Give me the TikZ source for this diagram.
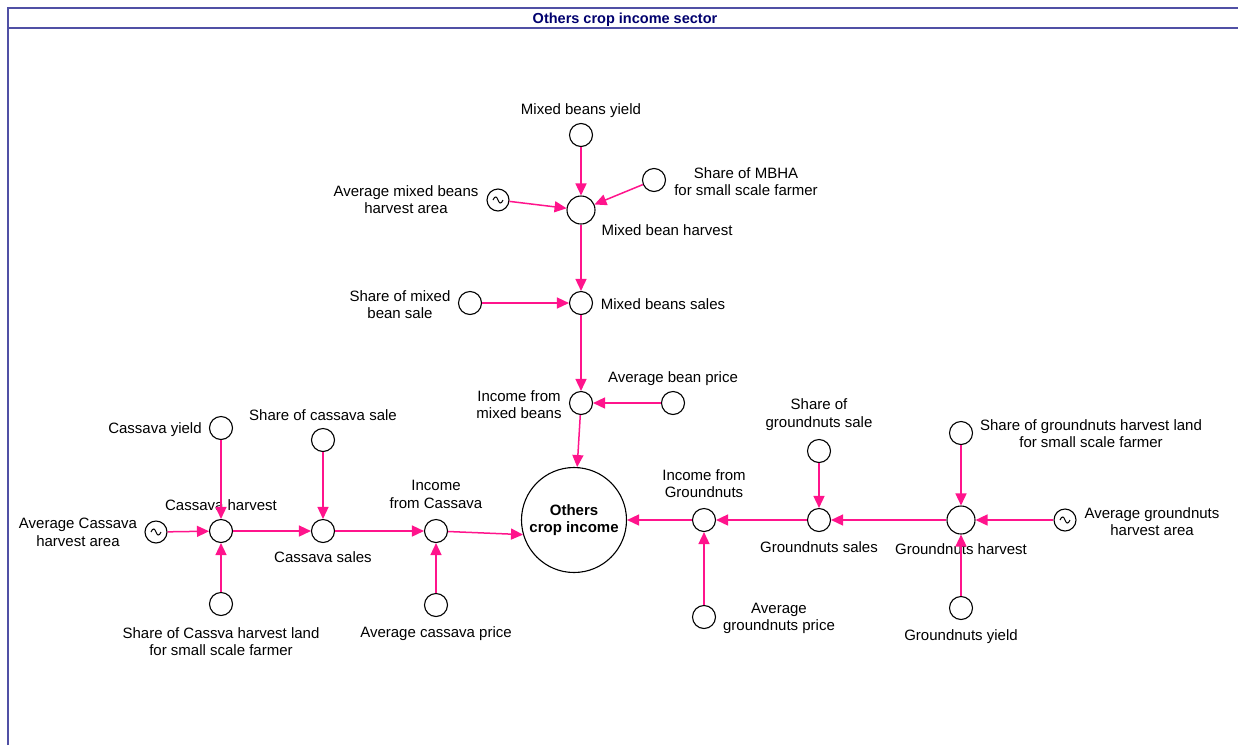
\documentclass[tikz,border=0pt]{standalone}
\usepackage{fontspec}
\setmainfont{Liberation Sans}
\usetikzlibrary{arrows.meta,calc}
\definecolor{linkpink}{RGB}{255,20,140}
\definecolor{framecol}{RGB}{80,80,165}
\definecolor{titlecol}{RGB}{0,0,110}
\tikzset{
  aux/.style={circle,draw=black,line width=1.1pt,minimum size=23pt,inner sep=0pt},
  bigaux/.style={aux,minimum size=28pt},
  conv/.style={aux,minimum size=22pt},
  stock/.style={circle,draw=black,line width=1.1pt,minimum size=105pt,inner sep=0pt,
    font=\fontsize{15}{17}\selectfont\bfseries,align=center},
  lbl/.style={font=\fontsize{15}{17.5}\selectfont,align=center,inner sep=0pt,yshift=-1.5pt},
  link/.style={draw=linkpink,line width=1.5pt,-{Triangle[length=12pt,width=11pt]}}
}
% small sine wave inside a graphical-function circle
\newcommand{\wave}[1]{%
  \draw[line width=1pt] ($(#1.center)+(-5,0)$)
    .. controls ($(#1.center)+(-3,-5)$) and ($(#1.center)+(-1,-3)$) .. (#1.center)
    .. controls ($(#1.center)+(1,3)$) and ($(#1.center)+(3,5)$) .. ($(#1.center)+(5,0)$);}
\begin{document}
\begin{tikzpicture}[x=1pt,y=-1pt]
\useasboundingbox (0,0) rectangle (1238,745);
\fill[white] (0,0) rectangle (1238,745);
% sector frame
\draw[framecol,line width=2pt] (8,745) -- (8,8) -- (1238,8);
\draw[framecol,line width=2pt] (8,28) -- (1238,28);
\node[font=\fontsize{14.5}{16}\selectfont\bfseries,text=titlecol,yshift=-1.5pt] (title) at (625,18) {Others crop income sector};

% central stock
\node[stock] (oci) at (574,520) {Others\\crop income};

% mixed beans
\node[aux] (mby) at (581,135) {};
\node[lbl] (mbyL) at (581,109) {Mixed beans yield};
\node[aux] (mbha) at (654,180) {};
\node[lbl] (mbhaL) at (746,180) {Share of MBHA\\for small scale farmer};
\node[conv] (amba) at (498,200) {};
\wave{amba}
\node[lbl] (ambaL) at (406,198) {Average mixed beans\\harvest area};
\node[bigaux] (mbh) at (581,210) {};
\node[lbl] (mbhL) at (667,229) {Mixed bean harvest};
\node[aux] (smbs) at (470,303) {};
\node[lbl] (smbsL) at (400,303) {Share of mixed\\bean sale};
\node[aux] (mbs) at (581,303) {};
\node[lbl] (mbsL) at (663,303) {Mixed beans sales};
\node[aux] (imb) at (581,403) {};
\node[lbl] (imbL) at (519,403) {Income from\\mixed beans};
\node[aux] (abp) at (673,403) {};
\node[lbl] (abpL) at (673,377) {Average bean price};

% cassava
\node[aux] (cy) at (221,428) {};
\node[lbl] (cyL) at (155,428) {Cassava yield};
\node[aux] (scs) at (323,440) {};
\node[lbl] (scsL) at (323,414) {Share of cassava sale};
\node[conv] (aca) at (156,532) {};
\wave{aca}
\node[lbl] (acaL) at (78,531) {Average Cassava\\harvest area};
\node[aux] (ch) at (221,531) {};
\node[lbl] (chL) at (221,504) {Cassava harvest};
\node[aux] (cs) at (323,531) {};
\node[lbl] (csL) at (323,556) {Cassava sales};
\node[aux] (ic) at (436,531) {};
\node[lbl] (icL) at (436,493) {Income\\from Cassava};
\node[aux] (scl) at (221,604) {};
\node[lbl] (sclL) at (221,640) {Share of Cassva harvest land\\for small scale farmer};
\node[aux] (acp) at (436,605) {};
\node[lbl] (acpL) at (436,632) {Average cassava price};

% groundnuts
\node[aux] (ig) at (704,520) {};
\node[lbl] (igL) at (704,482) {Income from\\Groundnuts};
\node[aux] (agp) at (704,617) {};
\node[lbl] (agpL) at (779,617) {Average\\groundnuts price};
\node[aux] (sgs) at (819,451) {};
\node[lbl] (sgsL) at (819,413) {Share of\\groundnuts sale};
\node[aux] (gs) at (819,520) {};
\node[lbl] (gsL) at (819,546) {Groundnuts sales};
\node[aux] (sgl) at (961,433) {};
\node[lbl] (sglL) at (1091,432) {Share of groundnuts harvest land\\for small scale farmer};
\node[bigaux] (gh) at (961,520) {};
\node[lbl] (ghL) at (961,548) {Groundnuts harvest};
\node[conv] (aga) at (1065,520) {};
\wave{aga}
\node[lbl] (agaL) at (1152,520) {Average groundnuts\\harvest area};
\node[aux] (gy) at (961,608) {};
\node[lbl] (gyL) at (961,635) {Groundnuts yield};

% links
\draw[link] (mby) -- (mbh);
\draw[link] (mbha) -- (mbh);
\draw[link] (amba) -- (mbh);
\draw[link] (mbh) -- (mbs);
\draw[link] (smbs) -- (mbs);
\draw[link] (mbs) -- (imb);
\draw[link] (abp) -- (imb);
\draw[link] (imb) -- (oci);
\draw[link] (cy) -- (ch);
\draw[link] (aca) -- (ch);
\draw[link] (scl) -- (ch);
\draw[link] (ch) -- (cs);
\draw[link] (scs) -- (cs);
\draw[link] (cs) -- (ic);
\draw[link] (acp) -- (ic);
\draw[link] (ic) -- (oci.196);
\draw[link] (ig) -- (oci);
\draw[link] (agp) -- (ig);
\draw[link] (gs) -- (ig);
\draw[link] (sgs) -- (gs);
\draw[link] (gh) -- (gs);
\draw[link] (sgl) -- (gh);
\draw[link] (aga) -- (gh);
\draw[link] (gy) -- (gh);
\end{tikzpicture}
\end{document}
